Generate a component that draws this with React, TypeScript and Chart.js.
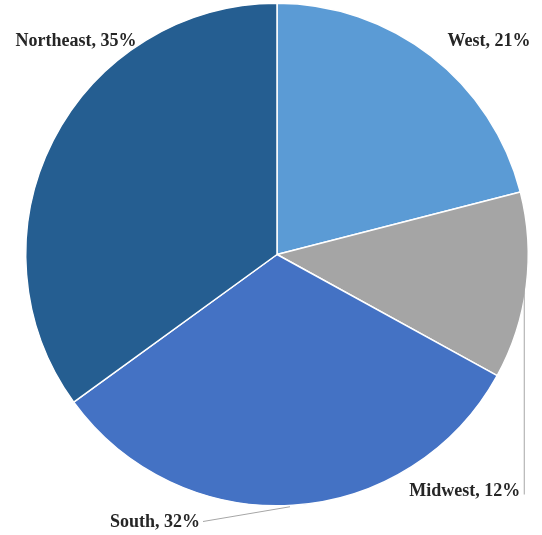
import React, { useEffect, useRef } from "react";
import { Chart, registerables } from "chart.js";

Chart.register(...registerables);

const regions = ["West", "Midwest", "South", "Northeast"];
const shares = [21, 12, 32, 35];
const colors = ["#5B9BD5", "#A5A5A5", "#4472C4", "#255E91"];

const labelPlugin = {
  id: "sliceLabels",
  afterDatasetsDraw(chart: any) {
    const ctx = chart.ctx;
    const meta = chart.getDatasetMeta(0);
    const arcs = meta.data;
    ctx.save();
    ctx.font = "bold 18px 'Liberation Serif', 'DejaVu Serif', serif";
    ctx.fillStyle = "#262626";
    ctx.textBaseline = "middle";
    ctx.strokeStyle = "#A6A6A6";
    ctx.lineWidth = 1;
    const text = (i: number) => `${regions[i]}, ${shares[i]}%`;
    arcs.forEach((arc: any, i: number) => {
      const { x, y, outerRadius } = arc.getProps(["x", "y", "outerRadius"], true);
      const name = regions[i];
      if (name === "West") {
        ctx.textAlign = "center";
        ctx.fillText(text(i), x + 212, y - 213);
      } else if (name === "Northeast") {
        ctx.textAlign = "center";
        ctx.fillText(text(i), x - 201, y - 213);
      } else if (name === "Midwest") {
        const lx = x + outerRadius - 4;
        const ly = y + 33;
        ctx.beginPath();
        ctx.moveTo(lx, ly);
        ctx.lineTo(lx, y + 240);
        ctx.stroke();
        ctx.textAlign = "right";
        ctx.fillText(text(i), lx - 4, y + 237);
      } else if (name === "South") {
        const sx = x + 13;
        const sy = y + outerRadius + 1;
        ctx.beginPath();
        ctx.moveTo(sx, sy);
        ctx.lineTo(x - 74, y + 267);
        ctx.stroke();
        ctx.textAlign = "right";
        ctx.fillText(text(i), x - 77, y + 268);
      }
    });
    ctx.restore();
  },
};

export default function App() {
  const ref = useRef<HTMLCanvasElement>(null);
  useEffect(() => {
    document.body.style.margin = "0";
    const chart = new Chart(ref.current!, {
      type: "pie",
      data: {
        labels: regions,
        datasets: [
          {
            data: shares,
            backgroundColor: colors,
            borderColor: "#FFFFFF",
            borderWidth: 1.5,
          },
        ],
      },
      options: {
        responsive: false,
        animation: false,
        layout: { padding: { left: 25, right: 13, top: 2, bottom: 28 } },
        plugins: {
          legend: { display: false },
          tooltip: { enabled: false },
        },
      },
      plugins: [labelPlugin],
    });
    return () => chart.destroy();
  }, []);
  return (
    <div style={{ position: "absolute", left: 0, top: 0, width: 542, height: 535, background: "#fff" }}>
      <canvas ref={ref} width={542} height={535} />
    </div>
  );
}
